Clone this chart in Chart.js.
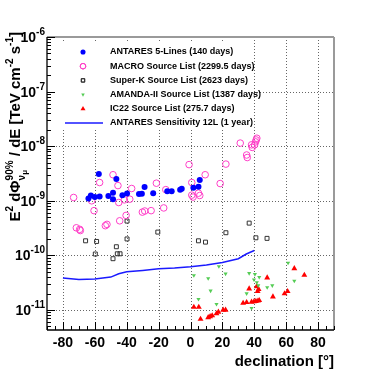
<!DOCTYPE html>
<html>
<head>
<meta charset="utf-8">
<style>body{margin:0;background:#fff}canvas{display:block}</style>
</head>
<body>
<canvas id="myChart" width="382" height="374"></canvas>
<script src="https://cdn.jsdelivr.net/npm/chart.js"></script>
<script>
    // ANTARES 5-Lines (140 days)
    let antX = [-64, -62.5, -60, -57.5, -57, -51.5, -48.6, -48.6, -46.5, -42.7, -39.8, -32.3, -30.5, -28.8, -23.4, -14.6, -11.8, -6.5, -5.5, 1.8, 5, 5.8];
    let antY = [1.1e-9, 1.25e-9, 1.17e-9, 3.1e-9, 1.2e-9, 1.23e-9, 1.4e-9, 1.07e-9, 2.5e-9, 1.27e-9, 1.36e-9, 1.33e-9, 1.34e-9, 1.78e-9, 1.37e-9, 1.5e-9, 1.5e-9, 1.6e-9, 1.66e-9, 1.73e-9, 1.8e-9, 2.4e-9];

    // MACRO Source List
    let macroX = [-73.3, -71.6, -69.5, -69.1, -62, -60.5, -57, -53.4, -52.4, -48.6, -45.5, -45, -44.4, -41.5, -40.4, -38.1, -36.9, -30.2, -28.7, -24.7, -21.4, -16.8, -15.5, -0.9, 0.8, 0.8, 1.6, 5, 5.8, 9.2, 18.6, 22.2, 31.2, 35.2, 35.6, 38.3, 38.7, 40.2, 40.8, 41.2, 41.6];
    let macroY = [1.15e-9, 3.2e-10, 3.0e-10, 2.85e-10, 1.0e-9, 6.6e-10, 2.16e-9, 3.5e-10, 3.7e-10, 3.0e-9, 1.9e-9, 9.3e-10, 4.3e-10, 1.04e-9, 5.4e-10, 1.07e-9, 1.68e-9, 6.2e-10, 6.5e-10, 6.6e-10, 2.1e-9, 7.4e-10, 1.6e-9, 4.6e-9, 2.16e-9, 1.27e-9, 1.17e-9, 1.38e-9, 1.25e-9, 3.0e-9, 2.07e-9, 4.7e-9, 1.14e-8, 6.9e-9, 6.2e-9, 1.06e-8, 9.5e-9, 1.06e-8, 1.2e-8, 1.3e-8, 1.4e-8];

    // Super-K Source List
    let skX = [-65.8, -59.7, -58.9, -48.6, -46.5, -45.9, -44.2, -39.8, -39.8, -20.5, 5, 9.4, 22.2, 36.8, 41, 48];
    let skY = [1.85e-10, 1.06e-10, 1.8e-10, 8.7e-11, 1.44e-10, 1.07e-10, 1.07e-10, 4.25e-10, 2.0e-10, 2.67e-10, 1.85e-10, 1.75e-10, 2.6e-10, 3.9e-10, 2.1e-10, 2.05e-10];

    // AMANDA-II Source List
    let amX = [2.1, 5, 11.1, 12.6, 16.3, 17.8, 22, 35.2, 36.8, 38.3, 39.8, 40.4, 41.6, 42.5, 43.1, 48.1, 51.3, 61.2, 65.1];
    let amY = [4.3e-11, 1.58e-11, 3.8e-11, 2.25e-11, 1.28e-11, 6.3e-11, 4.6e-11, 2.0e-11, 4.7e-11, 1.08e-11, 3.6e-11, 4.5e-11, 3.2e-11, 2.8e-11, 4.0e-11, 2.6e-11, 2.8e-11, 7.3e-11, 3.4e-11];

    // IC22 Source List
    let icX = [2.1, 5.2, 6.3, 11.1, 12.3, 13.6, 16.3, 17.5, 20.5, 22, 33, 35.2, 36.8, 38.3, 39.8, 41, 41.5, 42.1, 42.3, 42.7, 43.1, 48.1, 51.7, 59, 60.9, 65.1, 71.4];
    let icY = [1.13e-11, 1.13e-11, 6.8e-12, 7.3e-12, 7.6e-12, 7.9e-12, 8.6e-12, 9.2e-12, 1.0e-11, 1.0e-11, 1.34e-11, 1.38e-11, 2.45e-11, 1.4e-11, 1.42e-11, 1.45e-11, 2.7e-11, 2.2e-11, 1.47e-11, 2.4e-11, 1.5e-11, 3.9e-11, 1.75e-11, 2.0e-11, 2.2e-11, 5.75e-11, 4.35e-11];

    // ANTARES Sensitivity 12L (1 year)
    let sensX = [-80, -70, -60, -50, -45, -40, -30, -20, -10, 0, 10, 20, 30, 35, 40];
    let sensY = [3.84e-11, 3.6e-11, 3.68e-11, 4.0e-11, 4.6e-11, 5.0e-11, 5.3e-11, 5.7e-11, 5.9e-11, 6.2e-11, 6.7e-11, 7.4e-11, 8.7e-11, 1.06e-10, 1.23e-10];

    let labels = ['ANTARES 5-Lines (140 days)', 'MACRO Source List (2299.5 days)', 'Super-K Source List (2623 days)',
        'AMANDA-II Source List (1387 days)', 'IC22 Source List (275.7 days)', 'ANTARES Sensitivity 12L (1 year)'];

    let xTicks = [-80, -60, -40, -20, 0, 20, 40, 60, 80];
    let yTicks = [1e-11, 1e-10, 1e-9, 1e-8, 1e-7, 1e-6];
    let yTickExp = ['-11', '-10', '-9', '-8', '-7', '-6'];

    const FONT = "'Liberation Sans', Arial, sans-serif";

    function pts(xs, ys) {
        return xs.map(function (x, i) { return {x: x, y: ys[i]}; });
    }

    const datasets = [
        {label: labels[0], data: pts(antX, antY), pointStyle: 'circle', pointRadius: 3, backgroundColor: '#0000ff', borderColor: '#0000ff', borderWidth: 0},
        {label: labels[1], data: pts(macroX, macroY), pointStyle: 'circle', pointRadius: 3.3, backgroundColor: 'rgba(0,0,0,0)', borderColor: '#ff3fc8', borderWidth: 1},
        {label: labels[2], data: pts(skX, skY), pointStyle: 'rect', pointRadius: 2.8, backgroundColor: 'rgba(0,0,0,0)', borderColor: '#333333', borderWidth: 1},
        {label: labels[3], data: pts(amX, amY), pointStyle: 'triangle', rotation: 180, pointRadius: 2.4, backgroundColor: '#55cc55', borderColor: '#55cc55', borderWidth: 0},
        {label: labels[4], data: pts(icX, icY), pointStyle: 'triangle', pointRadius: 3.4, backgroundColor: '#ff0000', borderColor: '#ff0000', borderWidth: 0},
        {label: labels[5], data: pts(sensX, sensY), type: 'line', showLine: true, pointRadius: 0, borderColor: '#1a1aff', borderWidth: 1.5, fill: false},
    ];

    function line(ctx, x1, y1, x2, y2) {
        ctx.beginPath();
        ctx.moveTo(x1, y1);
        ctx.lineTo(x2, y2);
        ctx.stroke();
    }

    // draws a list of [text, kind] pieces, kind: m = main, p = superscript, b = subscript
    function drawPieces(ctx, pieces, x, y, big, small) {
        let cx = x;
        for (let p of pieces) {
            if (p.stack) {
                ctx.font = 'bold ' + small + 'px ' + FONT;
                ctx.fillText(p.sup, cx, y - big * 0.45);
                let w1 = ctx.measureText(p.sup).width;
                ctx.fillText(p.sub, cx, y + big * 0.3);
                let w2 = ctx.measureText(p.sub).width;
                ctx.font = 'bold ' + (small - 2) + 'px ' + FONT;
                ctx.fillText(p.subsub, cx + w2, y + big * 0.45);
                w2 += ctx.measureText(p.subsub).width;
                cx += Math.max(w1, w2);
                continue;
            }
            let size = p[1] === 'm' ? big : small;
            let dy = p[1] === 'p' ? -big * 0.45 : (p[1] === 'b' ? big * 0.3 : 0);
            ctx.font = 'bold ' + size + 'px ' + FONT;
            ctx.fillText(p[0], cx, y + dy);
            cx += ctx.measureText(p[0]).width;
        }
        return cx - x;
    }

    function measurePieces(ctx, pieces, big, small) {
        ctx.save();
        ctx.globalAlpha = 0;
        let w = drawPieces(ctx, pieces, 0, 0, big, small);
        ctx.restore();
        return w;
    }

    const decor = {
        id: 'decor',
        beforeDatasetsDraw(chart) {
            const {ctx, chartArea: a, scales: {x, y}} = chart;
            ctx.save();
            ctx.strokeStyle = '#666';
            ctx.lineWidth = 1;
            ctx.setLineDash([1, 2]);
            for (let v of xTicks) {
                let px = Math.round(x.getPixelForValue(v)) + 0.5;
                line(ctx, px, a.top, px, a.bottom);
            }
            for (let v of yTicks) {
                let py = Math.round(y.getPixelForValue(v)) + 0.5;
                line(ctx, a.left, py, a.right, py);
            }
            ctx.restore();
        },
        afterDatasetsDraw(chart) {
            const {ctx, chartArea: a, scales: {x, y}} = chart;
            ctx.save();

            // legend
            ctx.fillStyle = '#fff';
            ctx.fillRect(50, 43, 196, 87);
            for (let i = 0; i < labels.length; i++) {
                let ly = 52 + i * 14.2;
                let ds = chart.data.datasets[i];
                if (i === 5) {
                    ctx.strokeStyle = ds.borderColor;
                    ctx.lineWidth = 1.5;
                    line(ctx, 65, ly, 103, ly);
                } else {
                    ctx.fillStyle = ds.backgroundColor;
                    ctx.strokeStyle = ds.borderColor;
                    ctx.lineWidth = ds.borderWidth;
                    Chart.helpers.drawPoint(ctx, {pointStyle: ds.pointStyle, radius: ds.pointRadius * 0.85, rotation: ds.rotation || 0, borderWidth: ds.borderWidth}, 83, ly);
                    if (ds.borderWidth > 0) ctx.stroke();
                }
                ctx.fillStyle = '#000';
                ctx.font = 'bold 9px ' + FONT;
                ctx.textBaseline = 'middle';
                ctx.textAlign = 'left';
                ctx.fillText(labels[i], 110, ly);
            }

            // frame
            ctx.strokeStyle = '#9a9a9a';
            ctx.lineWidth = 2;
            line(ctx, a.left, a.top, a.right, a.top);
            line(ctx, a.right, a.top, a.right, a.bottom);
            ctx.strokeStyle = '#000';
            ctx.lineWidth = 1.3;
            line(ctx, a.left, a.top, a.left, a.bottom);
            line(ctx, a.left, a.bottom, a.right, a.bottom);

            // x ticks
            ctx.lineWidth = 1;
            for (let v = -90; v <= 90; v += 5) {
                let px = Math.round(x.getPixelForValue(v)) + 0.5;
                let len = (v % 20 === 0 && v !== -90 && v !== 90 && Math.abs(v) !== 90) ? 8 : 4;
                if (v % 10 === 0 && v % 20 !== 0) len = 4;
                line(ctx, px, a.bottom, px, a.bottom - len);
            }
            // y ticks
            for (let e = -12; e <= -7; e++) {
                for (let m = 1; m <= 9; m++) {
                    let v = m * Math.pow(10, e);
                    if (v < y.min || v > y.max) continue;
                    let py = Math.round(y.getPixelForValue(v)) + 0.5;
                    line(ctx, a.left, py, a.left + (m === 1 ? 8 : 4), py);
                }
            }
            let tp = Math.round(y.getPixelForValue(1e-6)) + 0.5;
            line(ctx, a.left, tp, a.left + 8, tp);

            // tick labels
            ctx.fillStyle = '#000';
            ctx.textBaseline = 'alphabetic';
            ctx.textAlign = 'center';
            ctx.font = 'bold 14px ' + FONT;
            for (let v of xTicks) {
                ctx.fillText(String(v), x.getPixelForValue(v), a.bottom + 17);
            }
            ctx.textAlign = 'right';
            for (let i = 0; i < yTicks.length; i++) {
                let py = y.getPixelForValue(yTicks[i]);
                ctx.font = 'bold 10px ' + FONT;
                ctx.fillText(yTickExp[i], 45, py - 2);
                let ew = ctx.measureText(yTickExp[i]).width;
                ctx.font = 'bold 14px ' + FONT;
                ctx.fillText('10', 45 - ew, py + 5);
            }

            // x title
            ctx.font = 'bold 15px ' + FONT;
            ctx.textAlign = 'right';
            ctx.fillText('declination [°]', a.right, 366);

            // y title
            let pieces = [['E', 'm'], ['2', 'p'], [' d\u03A6', 'm'], {stack: true, sup: '90%', sub: '\u03BD', subsub: '\u03BC'},
                [' / dE [TeV cm', 'm'], ['-2', 'p'], [' s', 'm'], ['-1', 'p'], [']', 'm']];
            ctx.textAlign = 'left';
            let w = measurePieces(ctx, pieces, 15, 10);
            ctx.translate(20, 32);
            ctx.rotate(-Math.PI / 2);
            ctx.fillStyle = '#000';
            drawPieces(ctx, pieces, -w, 0, 15, 10);
            ctx.restore();
        }
    };

    const config = {
        type: 'scatter',
        data: {datasets: datasets},
        options: {
            responsive: false,
            animation: false,
            layout: {padding: {left: 47, right: 48, top: 37, bottom: 44}},
            plugins: {legend: {display: false}, tooltip: {enabled: false}},
            scales: {
                x: {type: 'linear', min: -90, max: 90, display: false},
                y: {type: 'logarithmic', min: 4.3e-12, max: 1e-6, display: false},
            },
        },
        plugins: [decor],
    };

    new Chart(document.getElementById('myChart'), config);
</script>
</body>
</html>
